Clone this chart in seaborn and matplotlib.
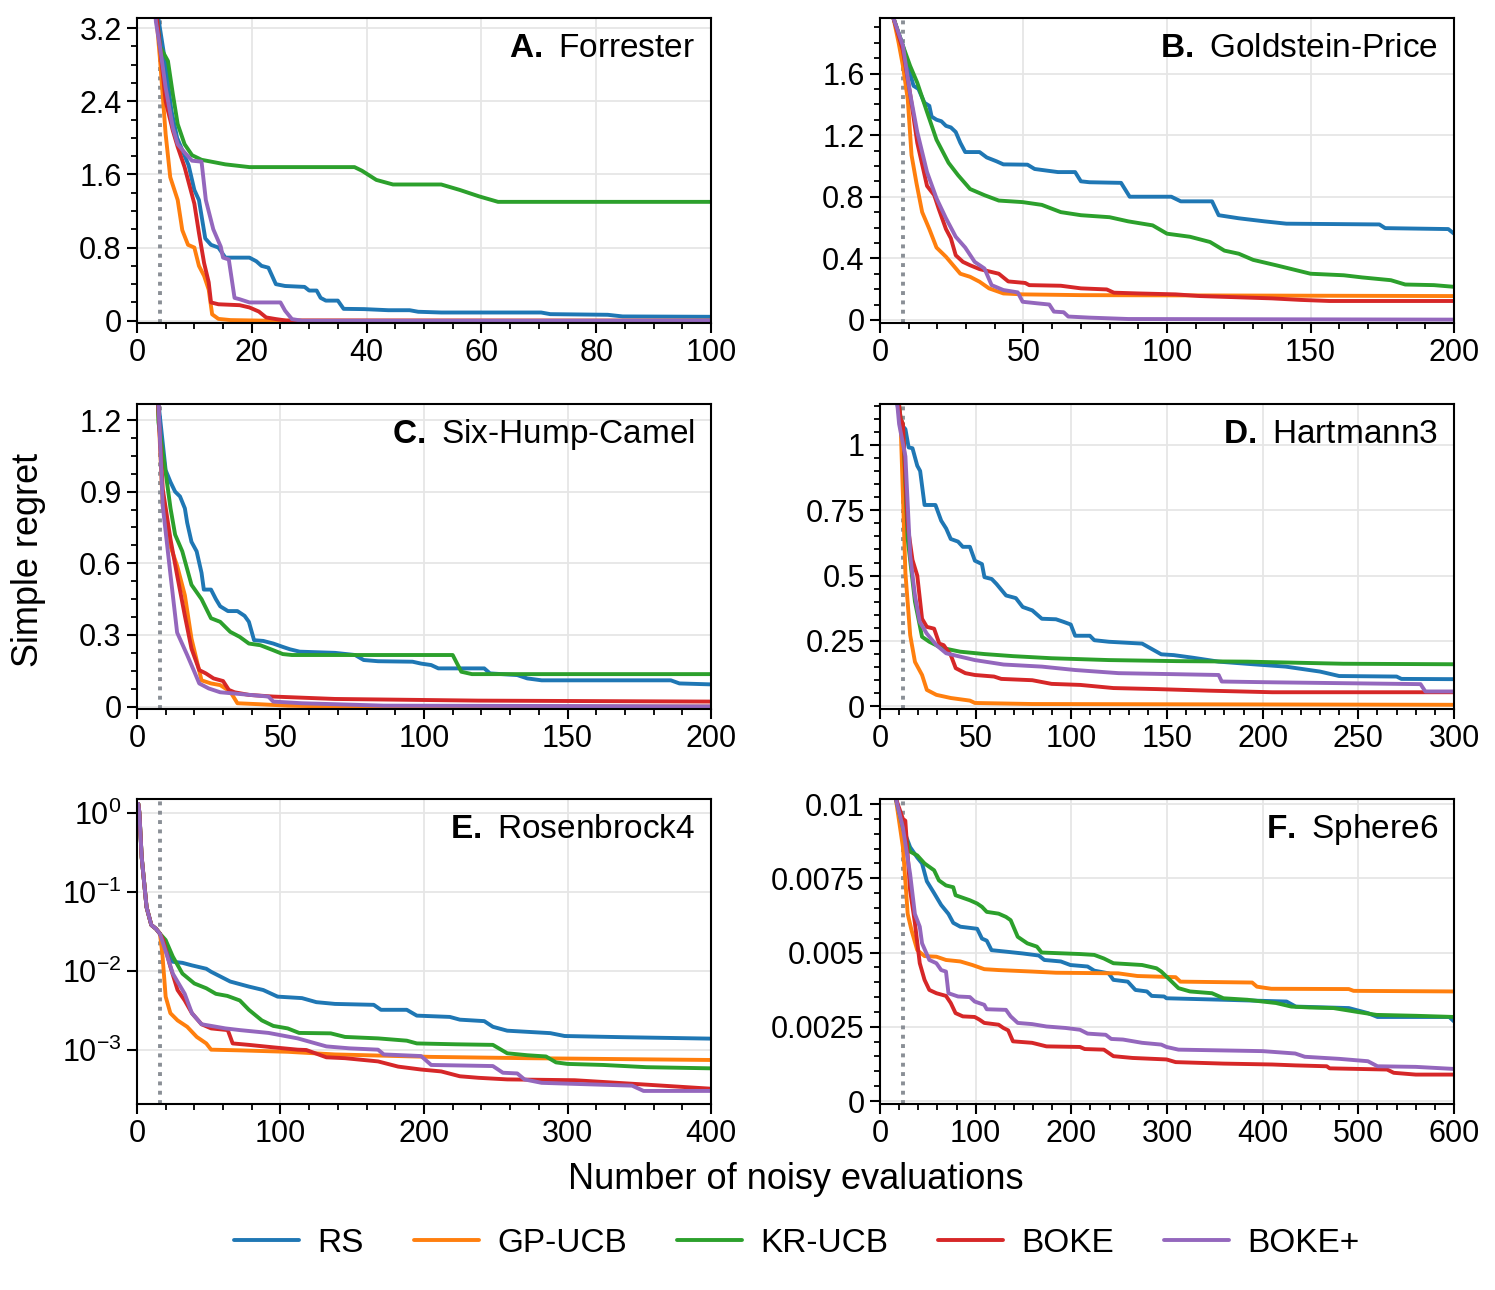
import numpy as np
import pandas as pd
import matplotlib
matplotlib.use("Agg")
import matplotlib.pyplot as plt
import seaborn as sns
from matplotlib.ticker import MultipleLocator, AutoMinorLocator, FuncFormatter, NullLocator, FixedLocator
from matplotlib.lines import Line2D

# Methods and colours
methods = ['RS', 'GP-UCB', 'KR-UCB', 'BOKE', 'BOKE+']
colors = ['#1f77b4', '#ff7f0e', '#2ca02c', '#d62728', '#9467bd']

# A. Forrester
forrester_rs = [(3, 3.6), (4, 3.2), (5, 2.8), (6, 2.3), (7, 2.0), (8, 1.85), (9, 1.7), (10, 1.43), (10.8, 1.32),
                (11.9, 0.90), (12.9, 0.83), (14.2, 0.80), (15.4, 0.69), (19.6, 0.69), (20.8, 0.65), (21.7, 0.60),
                (22.9, 0.58), (24.2, 0.40), (25.8, 0.38), (29.2, 0.37), (30, 0.33), (31.3, 0.33), (32, 0.25),
                (32.9, 0.22), (35, 0.22), (36, 0.13), (39.6, 0.127), (43.8, 0.115), (47.5, 0.115), (49, 0.098),
                (53, 0.09), (70.4, 0.09), (72, 0.072), (82, 0.065), (84.6, 0.047), (100, 0.043)]
forrester_gp = [(3, 3.6), (4, 2.87), (5, 2.04), (5.8, 1.57), (7.1, 1.32), (7.9, 0.99), (8.9, 0.83), (10, 0.80),
                (10.8, 0.60), (11.7, 0.49), (12.5, 0.34), (13.1, 0.07), (14.2, 0.02), (16.3, 0.007), (22, 0.001),
                (100, 0.0)]
forrester_kr = [(3, 3.6), (4, 3.0), (5.4, 2.84), (6.25, 2.48), (7.1, 2.15), (8.3, 1.93), (9.6, 1.81), (11.25, 1.76),
                (15.4, 1.71), (19.6, 1.68), (37.9, 1.68), (39.2, 1.64), (41.7, 1.54), (44.6, 1.49), (53, 1.49),
                (56.25, 1.43), (59.6, 1.36), (62.9, 1.30), (100, 1.30)]
forrester_boke = [(3, 3.6), (4, 3.0), (5, 2.4), (6.25, 2.08), (7.1, 1.9), (8.3, 1.68), (10, 1.28), (10.8, 0.96),
                  (11.7, 0.63), (12.5, 0.42), (12.9, 0.2), (14.2, 0.18), (17.9, 0.17), (19.6, 0.145), (21.25, 0.1),
                  (22.5, 0.036), (24.2, 0.018), (26, 0.002), (100, 0.0)]
forrester_bokep = [(3, 3.6), (3.3, 3.27), (4, 3.0), (5, 2.55), (6.25, 2.11), (7.1, 1.93), (8.3, 1.84), (9.6, 1.75),
                   (11.25, 1.74), (12, 1.32), (13.3, 1.0), (14.6, 0.81), (15, 0.69), (16, 0.67), (17, 0.25),
                   (17.9, 0.235), (19.6, 0.2), (25, 0.2), (25.8, 0.11), (27, 0.018), (28.75, 0.0), (100, 0.0)]

# B. Goldstein-Price
goldstein_rs = [(4, 2.15), (4.7, 1.96), (8, 1.78), (10.5, 1.60), (11.7, 1.52), (13.4, 1.50), (15.5, 1.41),
                (17.2, 1.39), (18, 1.32), (19.7, 1.30), (21.4, 1.29), (23, 1.26), (24.7, 1.25), (26.4, 1.22),
                (28, 1.15), (29.7, 1.09), (34.7, 1.09), (37.2, 1.055), (40.6, 1.03), (43, 1.01), (51.4, 1.008),
                (53.9, 0.98), (62, 0.96), (68, 0.96), (70, 0.9), (73, 0.894), (84, 0.89), (87, 0.80), (101.5, 0.80),
                (104.8, 0.77), (115.7, 0.77), (118, 0.68), (125, 0.66), (134, 0.64), (141.6, 0.625), (174, 0.62),
                (176, 0.596), (198, 0.59), (200, 0.56)]
goldstein_gp = [(4, 2.15), (4.7, 1.96), (6.5, 1.8), (8, 1.65), (9.7, 1.43), (11, 1.07), (12.7, 0.89), (14.7, 0.70),
                (17.2, 0.59), (19.7, 0.47), (23, 0.41), (25.5, 0.355), (28, 0.30), (31.4, 0.28), (34.7, 0.248),
                (38, 0.205), (43, 0.172), (49.7, 0.166), (70, 0.161), (200, 0.155)]
goldstein_kr = [(4, 2.15), (4.7, 1.96), (8, 1.78), (10.5, 1.65), (13, 1.54), (16.4, 1.35), (19.7, 1.17), (23.9, 1.02),
                (27.2, 0.94), (31.4, 0.85), (36.4, 0.81), (41.4, 0.775), (49.7, 0.765), (56.4, 0.747), (63, 0.70),
                (70, 0.68), (80, 0.667), (86.5, 0.64), (95, 0.614), (100, 0.56), (108, 0.54), (115, 0.506),
                (120, 0.45), (125, 0.43), (130, 0.39), (138, 0.355), (145, 0.323), (150, 0.30), (161.6, 0.29),
                (168, 0.276), (178, 0.258), (183, 0.23), (193, 0.226), (200, 0.215)]
goldstein_boke = [(4, 2.15), (4.7, 1.96), (8, 1.75), (10.5, 1.47), (13, 1.15), (16.4, 0.87), (18.9, 0.81),
                  (20.5, 0.72), (23, 0.59), (24.7, 0.53), (26.4, 0.42), (28.9, 0.377), (31.4, 0.355), (34.7, 0.33),
                  (41.4, 0.30), (44.7, 0.25), (50.6, 0.24), (52, 0.226), (63, 0.222), (70, 0.205), (79, 0.198),
                  (81.5, 0.177), (90, 0.172), (103, 0.166), (111.5, 0.155), (136.5, 0.14), (146.6, 0.13),
                  (156.6, 0.123), (200, 0.123)]
goldstein_bokep = [(4, 2.15), (4.7, 1.96), (8, 1.78), (10.5, 1.47), (13, 1.22), (16.4, 0.96), (19.7, 0.79),
                   (23, 0.66), (26.4, 0.54), (29.7, 0.47), (33, 0.377), (36.4, 0.334), (38.9, 0.226), (43, 0.194),
                   (48, 0.179), (49.7, 0.118), (54.7, 0.108), (59, 0.1), (60.6, 0.054), (64, 0.05), (65.6, 0.022),
                   (73, 0.015), (86.5, 0.006), (200, 0.002)]

# C. Six-Hump-Camel
camel_rs = [(7, 1.4), (7.5, 1.27), (10, 0.99), (11.7, 0.94), (13.3, 0.90), (15, 0.88), (16.7, 0.83), (17.5, 0.77),
            (19, 0.69), (20.8, 0.65), (22.5, 0.56), (23.3, 0.49), (25.8, 0.49), (27.5, 0.45), (29, 0.42),
            (31.7, 0.40), (35, 0.40), (37.5, 0.38), (39, 0.355), (40.8, 0.278), (44, 0.275), (47.5, 0.264),
            (50.8, 0.25), (53.3, 0.24), (56.7, 0.23), (69, 0.225), (76, 0.216), (79, 0.195), (84, 0.19), (96, 0.188),
            (99, 0.18), (102.5, 0.174), (105, 0.16), (121, 0.16), (123, 0.139), (132.5, 0.132), (136, 0.118),
            (141, 0.11), (186, 0.11), (189, 0.097), (200, 0.093)]
camel_gp = [(7, 1.4), (7.5, 1.23), (9, 0.84), (11.7, 0.67), (14, 0.59), (16.7, 0.466), (19, 0.285), (22.5, 0.11),
            (25.8, 0.097), (29, 0.09), (32.5, 0.063), (35, 0.014), (42.5, 0.01), (52.5, 0.004), (69, 0.0), (200, 0.0)]
camel_kr = [(7, 1.4), (7.5, 1.19), (10, 0.98), (11.7, 0.83), (13.3, 0.72), (15.8, 0.65), (19, 0.51), (22.5, 0.45),
            (25.8, 0.37), (29, 0.355), (32.5, 0.313), (35.8, 0.292), (39, 0.264), (43, 0.257), (47.5, 0.236),
            (50.8, 0.22), (54, 0.216), (110, 0.216), (113, 0.146), (116.7, 0.136), (200, 0.136)]
camel_boke = [(7, 1.4), (7.5, 1.24), (9, 0.91), (11.7, 0.70), (14, 0.55), (16.7, 0.38), (19, 0.243), (21.7, 0.153),
              (24, 0.139), (26.7, 0.118), (30, 0.107), (32, 0.07), (34, 0.06), (39, 0.049), (47.5, 0.042),
              (69, 0.032), (119, 0.025), (200, 0.021)]
camel_bokep = [(7, 1.4), (7.5, 1.27), (9, 0.84), (11.7, 0.55), (14, 0.31), (17.5, 0.216), (20, 0.146), (21.7, 0.097),
               (25, 0.076), (29, 0.06), (37.5, 0.051), (45.8, 0.042), (47.5, 0.021), (57.5, 0.014), (86, 0.004),
               (200, 0.001)]

# D. Hartmann3
hartmann_rs = [(8.5, 1.25), (9, 1.16), (10.8, 1.08), (13.3, 1.06), (15, 0.99), (17, 0.987), (19.5, 0.92), (21, 0.90),
               (23.3, 0.77), (29, 0.77), (32, 0.71), (34.6, 0.68), (37, 0.64), (40.8, 0.63), (43.3, 0.61), (47, 0.61),
               (49.6, 0.557), (53.3, 0.544), (54.6, 0.494), (58.4, 0.487), (60.9, 0.468), (65.9, 0.424), (71, 0.414),
               (74.6, 0.38), (79.6, 0.367), (84.6, 0.335), (92, 0.333), (96, 0.323), (99.7, 0.313), (102, 0.27),
               (109.7, 0.27), (112, 0.253), (119.7, 0.247), (137, 0.24), (147, 0.199), (153.5, 0.196),
               (163.5, 0.186), (177, 0.171), (195, 0.161), (212, 0.152), (230, 0.133), (240, 0.116), (270, 0.114),
               (272.5, 0.105), (300, 0.104)]
hartmann_gp = [(8.5, 1.25), (10.8, 1.08), (13.3, 0.51), (15.8, 0.272), (18.3, 0.17), (22, 0.12), (24.5, 0.063),
               (29.5, 0.044), (37, 0.032), (47, 0.022), (49.6, 0.013), (79.6, 0.009), (300, 0.006)]
hartmann_kr = [(8.5, 1.25), (10.8, 1.1), (12, 1.08), (14.5, 0.64), (18.3, 0.40), (22, 0.266), (25.8, 0.247),
               (32, 0.224), (42, 0.209), (54.6, 0.2), (69.6, 0.192), (89.7, 0.184), (119.7, 0.177), (155, 0.173),
               (192, 0.171), (242, 0.163), (300, 0.161)]
hartmann_boke = [(8.5, 1.25), (10.8, 1.1), (12, 1.08), (14.5, 0.69), (17, 0.56), (19.5, 0.50), (22, 0.335),
                 (24.5, 0.304), (28.3, 0.297), (31, 0.24), (33.3, 0.234), (37, 0.196), (39.6, 0.146), (44.6, 0.127),
                 (49.6, 0.12), (59.6, 0.114), (63.4, 0.105), (79.6, 0.1), (89.7, 0.086), (104.7, 0.082), (122, 0.07),
                 (145, 0.066), (172, 0.06), (205, 0.054), (300, 0.054)]
hartmann_bokep = [(8.5, 1.25), (9, 1.16), (10, 1.08), (13.3, 0.956), (15.8, 0.576), (18.3, 0.424), (20.8, 0.323),
                  (24.5, 0.278), (29.5, 0.234), (34.6, 0.203), (42, 0.19), (49.6, 0.177), (64.6, 0.16), (84.6, 0.152),
                  (102, 0.139), (124.7, 0.127), (177, 0.12), (178.6, 0.095), (205, 0.092), (282.5, 0.085),
                  (285, 0.057), (300, 0.057)]

# E. Rosenbrock4 (log scale)
rosen_rs = [(1, 1.3), (1.7, 1.0), (3.3, 0.275), (6.7, 0.064), (10, 0.038), (13.3, 0.034), (16, 0.0295), (20, 0.02),
            (25, 0.013), (31.7, 0.0126), (38.3, 0.0117), (48.3, 0.0106), (51.7, 0.0097), (65, 0.0073), (78, 0.0063),
            (88, 0.0057), (98, 0.0047), (115, 0.0045), (125, 0.0040), (138, 0.0038), (165, 0.0037), (170, 0.0032),
            (188, 0.0032), (195, 0.0027), (218, 0.0026), (225, 0.0024), (242, 0.0023), (248, 0.00195),
            (258, 0.00174), (288, 0.00162), (298, 0.00149), (338, 0.00144), (400, 0.00138)]
rosen_gp = [(1, 1.3), (1.7, 1.0), (3.3, 0.275), (6.7, 0.064), (10, 0.038), (13.3, 0.034), (16, 0.0295),
            (17.7, 0.0165), (20, 0.0047), (23.3, 0.0029), (28.3, 0.00235), (35, 0.00195), (41.7, 0.00145),
            (48.3, 0.0012), (51.7, 0.001), (71.7, 0.00098), (105, 0.00094), (138, 0.00087), (205, 0.00081),
            (272, 0.00078), (400, 0.00074)]
rosen_kr = [(1, 1.3), (1.7, 1.0), (3.3, 0.275), (6.7, 0.064), (10, 0.038), (13.3, 0.034), (16, 0.0295), (20, 0.0245),
            (25, 0.0151), (31.7, 0.0092), (40, 0.0069), (48.3, 0.006), (55, 0.0051), (63, 0.0048), (71.7, 0.0042),
            (78, 0.0032), (87, 0.00235), (95, 0.002), (105, 0.00186), (113, 0.00163), (135, 0.00161),
            (145, 0.00145), (168, 0.00139), (188, 0.0013), (195, 0.0012), (222, 0.00117), (248, 0.00115),
            (258, 0.0009), (272, 0.00085), (285, 0.00082), (292, 0.00069), (300, 0.00066), (325, 0.00064),
            (355, 0.0006), (400, 0.00058)]
rosen_boke = [(1, 1.3), (1.7, 1.0), (3.3, 0.275), (6.7, 0.064), (10, 0.038), (13.3, 0.034), (16, 0.0295),
              (18.3, 0.0245), (23.3, 0.0112), (28.3, 0.0057), (33.3, 0.0042), (38.3, 0.0029), (45, 0.0021),
              (51.7, 0.00186), (63.3, 0.00177), (66.7, 0.0012), (78, 0.00115), (95, 0.00107), (112, 0.001),
              (118, 0.00099), (132, 0.0008), (145, 0.00078), (168, 0.00071), (182, 0.00061), (198, 0.00056),
              (212, 0.00053), (225, 0.00046), (238, 0.00044), (258, 0.00042), (305, 0.00041), (345, 0.00037),
              (400, 0.00032)]
rosen_bokep = [(1, 1.3), (1.7, 1.0), (3.3, 0.275), (6.7, 0.064), (10, 0.038), (13.3, 0.034), (16, 0.0295),
               (18.3, 0.022), (25, 0.0092), (33.3, 0.0051), (38.3, 0.0029), (45, 0.0021), (61.7, 0.00186),
               (71.7, 0.00177), (91.7, 0.00163), (112, 0.00139), (132, 0.0011), (148, 0.00104), (168, 0.001),
               (172, 0.00087), (198, 0.00083), (205, 0.00064), (248, 0.00062), (255, 0.00051), (265, 0.0005),
               (270, 0.00042), (282, 0.00038), (302, 0.00037), (345, 0.00035), (353, 0.0003), (400, 0.0003)]

# F. Sphere6
sphere_rs = [(15, 0.0106), (16.5, 0.0102), (24, 0.0092), (31.5, 0.00855), (39, 0.0082), (44, 0.008), (49, 0.0074),
             (56.6, 0.007), (64, 0.0066), (71.6, 0.0063), (76.6, 0.006), (84, 0.00587), (101.6, 0.0058),
             (106.6, 0.00547), (111.6, 0.0054), (116.6, 0.00508), (131.7, 0.00503), (149, 0.00497), (166, 0.0049),
             (171.8, 0.00475), (189, 0.0047), (199, 0.00458), (217, 0.00453), (224, 0.00439), (239, 0.0043),
             (244, 0.00408), (259, 0.00402), (267, 0.00374), (279, 0.00369), (284, 0.00354), (297, 0.00352),
             (299.5, 0.00346), (359, 0.00341), (425, 0.00335), (434.6, 0.00318), (490, 0.00313), (510, 0.00296),
             (520, 0.00283), (595, 0.00283), (600, 0.00268)]
sphere_gp = [(15, 0.0106), (16.5, 0.0102), (24, 0.00855), (29, 0.0063), (33, 0.00575), (39, 0.00508),
             (46.6, 0.00488), (59, 0.00486), (69, 0.00475), (84, 0.0047), (96.6, 0.00458), (109, 0.00444),
             (124, 0.00441), (159, 0.00436), (184, 0.00432), (249, 0.0043), (269, 0.00421), (309, 0.00417),
             (314, 0.00402), (389, 0.00399), (394, 0.00385), (409, 0.00378), (490, 0.00377), (495, 0.00371),
             (600, 0.00369)]
sphere_kr = [(15, 0.0106), (16.5, 0.0102), (24, 0.0092), (31.5, 0.0084), (39, 0.00827), (46.6, 0.008),
             (56.6, 0.00777), (61.6, 0.00743), (69, 0.00726), (76.6, 0.0072), (79, 0.00693), (94, 0.00676),
             (101.6, 0.00665), (106.6, 0.00654), (111.6, 0.00637), (124, 0.00631), (131.7, 0.0062), (136.6, 0.00609),
             (144, 0.00553), (154, 0.00531), (164, 0.0052), (169, 0.005), (209, 0.00495), (224, 0.00492),
             (234, 0.0048), (244, 0.00464), (274, 0.00458), (289, 0.00447), (294, 0.00436), (299.5, 0.00419),
             (312, 0.0038), (324, 0.00369), (347, 0.00363), (359, 0.00346), (384, 0.00341), (400, 0.00335),
             (414, 0.0033), (430, 0.00318), (449, 0.00315), (474, 0.00313), (499, 0.003), (519, 0.0029),
             (560, 0.00287), (600, 0.00283)]
sphere_boke = [(15, 0.0106), (16.5, 0.0102), (24, 0.0095), (26.5, 0.00944), (31.5, 0.0071), (36.5, 0.006),
               (41.6, 0.00464), (46.6, 0.00408), (51.6, 0.00374), (59, 0.00363), (69, 0.00354), (74, 0.0033),
               (79, 0.00296), (86.6, 0.00285), (99, 0.00283), (104, 0.00274), (109, 0.00263), (124, 0.00257),
               (129, 0.00246), (134, 0.00238), (139, 0.00201), (159, 0.00196), (174, 0.00184), (209, 0.00182),
               (214, 0.00175), (234, 0.00173), (244, 0.00151), (264, 0.00145), (299.5, 0.0014), (309, 0.00131),
               (359, 0.00126), (410, 0.00123), (434, 0.0012), (467, 0.00117), (470, 0.0011), (530, 0.00106),
               (537, 0.00095), (560, 0.00089), (600, 0.00089)]
sphere_bokep = [(15, 0.0106), (16.5, 0.0102), (24, 0.0092), (31.5, 0.00765), (36.5, 0.0063), (41.6, 0.00587),
                (44, 0.00531), (51.6, 0.00475), (59, 0.00464), (64, 0.00441), (69, 0.00436), (71.6, 0.00363),
                (81.6, 0.00352), (94, 0.0035), (99, 0.00335), (109, 0.00324), (111.6, 0.00309), (131.7, 0.00307),
                (136.6, 0.00285), (144, 0.00263), (159, 0.00259), (174, 0.00251), (194, 0.00246), (209, 0.0024),
                (217, 0.00227), (236, 0.00223), (241.7, 0.00209), (254, 0.00207), (274, 0.00196), (294, 0.0019),
                (299.5, 0.00182), (312, 0.00173), (400, 0.00168), (434, 0.0016), (444, 0.00149), (480, 0.00142),
                (510, 0.00134), (520, 0.00117), (560, 0.00115), (600, 0.00108)]

# panel settings
letters = ['A.', 'B.', 'C.', 'D.', 'E.', 'F.']
names = ['Forrester', 'Goldstein-Price', 'Six-Hump-Camel', 'Hartmann3', 'Rosenbrock4', 'Sphere6']
n_init = [4, 8, 8, 12, 16, 24]
x_max = [100, 200, 200, 300, 400, 600]
x_step = [20, 50, 50, 50, 100, 100]
y_step = [0.8, 0.4, 0.3, 0.25, None, 0.0025]
y_lims = [(-0.025, 3.31), (-0.02, 1.96), (-0.01, 1.267), (-0.01, 1.156), (2.05e-4, 1.5), (-0.0001, 0.01017)]
series = [
    [forrester_rs, forrester_gp, forrester_kr, forrester_boke, forrester_bokep],
    [goldstein_rs, goldstein_gp, goldstein_kr, goldstein_boke, goldstein_bokep],
    [camel_rs, camel_gp, camel_kr, camel_boke, camel_bokep],
    [hartmann_rs, hartmann_gp, hartmann_kr, hartmann_boke, hartmann_bokep],
    [rosen_rs, rosen_gp, rosen_kr, rosen_boke, rosen_bokep],
    [sphere_rs, sphere_gp, sphere_kr, sphere_boke, sphere_bokep],
]

sns.set_style('ticks')
plt.rcParams['font.family'] = ['Liberation Sans', 'DejaVu Sans']
plt.rcParams['mathtext.fontset'] = 'custom'
plt.rcParams['mathtext.rm'] = 'Liberation Sans'
plt.rcParams['mathtext.bf'] = 'Liberation Sans:bold'
plt.rcParams['text.color'] = 'black'
plt.rcParams['axes.labelcolor'] = 'black'
plt.rcParams['xtick.color'] = 'black'
plt.rcParams['ytick.color'] = 'black'
plt.rcParams['axes.edgecolor'] = 'black'

fig = plt.figure(figsize=(14.95, 12.9), dpi=100)
lefts = [0.0916, 0.5886]
bottoms = [0.7496, 0.4504, 0.1442]
w, h = 0.384, 0.2364

for i in range(6):
    ax = fig.add_axes([lefts[i % 2], bottoms[i // 2], w, h])
    rows = []
    for m, pts in zip(methods, series[i]):
        for x, y in pts:
            rows.append((m, x, y))
    df = pd.DataFrame(rows, columns=['method', 'n', 'regret'])

    ax.axvline(n_init[i], color='#8a8f96', ls=(0, (1, 1.4)), lw=2.8, zorder=1)
    sns.lineplot(data=df, x='n', y='regret', hue='method', hue_order=methods, palette=colors,
                 estimator=None, sort=False, lw=2.8, legend=False, ax=ax, zorder=2)

    if i == 4:
        ax.set_yscale('log')
        ax.yaxis.set_major_locator(FixedLocator([1e-3, 1e-2, 1e-1, 1e0]))
        ax.yaxis.set_minor_locator(NullLocator())
        ax.yaxis.set_major_formatter(FuncFormatter(
            lambda v, p: r'$\mathregular{10^{%d}}$' % int(round(np.log10(v)))))
    else:
        ax.yaxis.set_major_locator(MultipleLocator(y_step[i]))
        ax.yaxis.set_minor_locator(AutoMinorLocator())
        ax.yaxis.set_major_formatter(FuncFormatter(lambda v, p: '{:g}'.format(round(v, 6))))
    ax.set_ylim(*y_lims[i])
    ax.set_xlim(0, x_max[i])
    ax.xaxis.set_major_locator(MultipleLocator(x_step[i]))
    ax.xaxis.set_minor_locator(AutoMinorLocator())

    ax.grid(True, which='major', color='#e6e6e6', lw=1.3, zorder=0)
    ax.set_axisbelow(True)
    ax.tick_params(which='major', direction='out', length=7, width=1.5, labelsize=22, pad=4, color='black')
    ax.tick_params(which='minor', direction='out', length=4, width=1.3, color='black')
    for s in ax.spines.values():
        s.set_linewidth(1.5)
        s.set_color('black')
    ax.set_xlabel('')
    ax.set_ylabel('')
    ax.text(0.972, 0.9, r'$\mathbf{%s}$ %s' % (letters[i], names[i]), transform=ax.transAxes,
            ha='right', va='center', fontsize=24)

fig.text(0.532, 0.086, 'Number of noisy evaluations', ha='center', va='center', fontsize=26)
fig.text(0.019, 0.566, 'Simple regret', ha='center', va='center', rotation=90, fontsize=26)

handles = [Line2D([0], [0], color=c, lw=2.8) for c in colors]
fig.legend(handles, methods, loc='center', bbox_to_anchor=(0.533, 0.036), ncol=5, frameon=False,
           fontsize=24, handlelength=1.95, handletextpad=0.55, columnspacing=1.5)

fig.savefig('out.png', dpi=100)
